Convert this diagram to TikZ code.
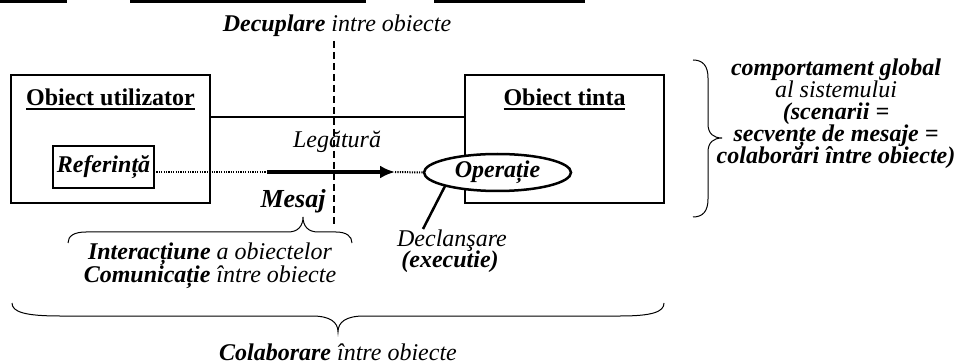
\documentclass[tikz,border=0pt]{standalone}
\usepackage{fontspec}
\setmainfont{Liberation Serif}
\usetikzlibrary{shapes.geometric,arrows.meta}
\newcommand\myul[1]{\setbox0\hbox{#1}\rlap{\raisebox{-3.6pt}{\rule{\wd0}{2pt}}}\box0}
\begin{document}
\begin{tikzpicture}[x=1pt,y=-1pt,
  every node/.style={font=\fontsize{24}{22}\selectfont\itshape, inner sep=0pt, outer sep=0pt},
  objbox/.style={draw, line width=2.5pt, minimum width=199pt, minimum height=128pt},
  refbox/.style={draw, line width=2pt, minimum width=101pt, minimum height=42pt},
  opell/.style={draw, ellipse, fill=white, line width=2.5pt, minimum width=147pt, minimum height=37pt},
  lbl/.style={anchor=base},
  titlelbl/.style={anchor=base, font=\fontsize{24}{22}\selectfont\bfseries},
  bilbl/.style={anchor=base, font=\fontsize{24}{22}\selectfont\bfseries\itshape},
  bracepath/.style={line width=1pt},
  dotline/.style={line width=2pt, dash pattern=on 1.2pt off 1.2pt},
  linkline/.style={line width=1.2pt},
  msgarrow/.style={line width=4.5pt, -{Latex[length=15pt,width=13pt]}},
  sepline/.style={line width=2pt, dash pattern=on 7pt off 4pt},
  trigline/.style={line width=2.5pt},
  topbar/.style={fill=black}
]
\useasboundingbox (0,0) rectangle (960,363);

% cropped bars at top
\fill[topbar] (0,0) rectangle (67,3.5);
\fill[topbar] (130,0) rectangle (366,3.5);
\fill[topbar] (434,0) rectangle (585,3.5);

% boxes
\node[objbox] (lbox) at (110.5,139) {};
\node[objbox] (rbox) at (564.5,139) {};
\node[titlelbl] (ltitle) at (110.5,106) {\myul{Obiect utilizator}};
\node[titlelbl] (rtitle) at (564.5,106) {\myul{Obiect tinta}};

\node[refbox, font=\fontsize{24}{22}\selectfont\bfseries\itshape] (ref) at (103.5,167) {Referință};

% link line
\draw[linkline] (lbox.east |- 0,117) -- (rbox.west |- 0,117);

% dashed separator
\coordinate (septop) at (334,41);
\coordinate (sepbot) at (334,227);
\draw[sepline] (septop) -- (sepbot);

% operation ellipse
\node[opell, font=\fontsize{24}{22}\selectfont\bfseries\itshape] (op) at (497.5,172.5) {Operație};

% message
\coordinate (msgstart) at (267,172);
\coordinate (msgend) at (395,172);
\draw[dotline] (ref.east |- 0,172) -- (msgstart);
\draw[msgarrow] (msgstart) -- (msgend);
\draw[dotline] (msgend) -- (op.west);

% trigger
\coordinate (trig) at (423,229);
\draw[trigline] (op.194) -- (trig);

% labels
\node[lbl] (decup) at (337,32) {{\bfseries Decuplare} intre obiecte};
\node[lbl] (leg) at (337,148) {Legătură};
\node[bilbl, font=\fontsize{26}{24}\selectfont\bfseries\itshape] (mesaj) at (293,208) {Mesaj};
\node[lbl] (decl) at (452,246.5) {Declanşare};
\node[bilbl] (exec) at (450,267) {(executie)};
\node[lbl] (inter) at (210,259.5) {{\bfseries Interacțiune} a obiectelor};
\node[lbl] (comun) at (210,282.5) {{\bfseries Comunicație} între obiecte};
\node[lbl] (colab) at (338,360) {{\bfseries Colaborare} între obiecte};

\node[bilbl] (r1) at (836,76) {comportament global};
\node[lbl] (r2) at (836,98) {al sistemului};
\node[bilbl] (r3) at (836,120) {(scenarii =};
\node[bilbl] (r4) at (836,142) {secvențe de mesaje =};
\node[bilbl] (r5) at (836,164) {colaborări între obiecte)};

% braces
\draw[bracepath] (693,60) .. controls (703,60) and (708,66) .. (708,78) -- (708,124)
  .. controls (708,134) and (714,138) .. (722,138)
  .. controls (714,138) and (708,142) .. (708,152) -- (708,199)
  .. controls (708,211) and (703,217) .. (693,217);

\draw[bracepath] (68,243) .. controls (68,236) and (74,232) .. (86,232) -- (288,232)
  .. controls (298,232) and (303,226) .. (303,217)
  .. controls (303,226) and (308,232) .. (318,232) -- (336,232)
  .. controls (346,232) and (352,236) .. (352,243);

\draw[bracepath] (12,303) .. controls (12,312) and (25,316) .. (60,316) -- (312,316)
  .. controls (330,316) and (338,322) .. (338,332)
  .. controls (338,322) and (346,316) .. (364,316) -- (620,316)
  .. controls (652,316) and (664,312) .. (664,303);
\end{tikzpicture}
\end{document}
